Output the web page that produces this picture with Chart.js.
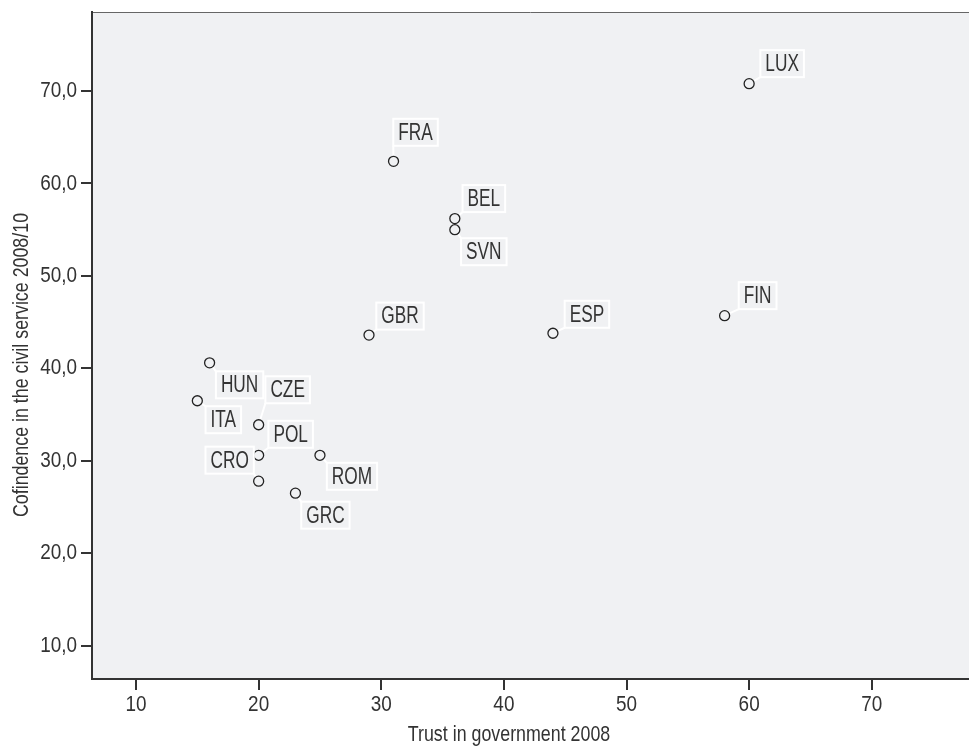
<!DOCTYPE html>
<html>
<head>
<meta charset="utf-8">
<script src="https://cdn.jsdelivr.net/npm/chart.js@4"></script>
<style>
  html, body { margin: 0; padding: 0; background: #fff; }
  #wrap { width: 969px; height: 747px; }
</style>
</head>
<body>
<div id="wrap"><canvas id="scatter" width="969" height="747"></canvas></div>
<script>
// countries and their values
const countries = ['LUX', 'FRA', 'BEL', 'SVN', 'FIN', 'ESP', 'GBR', 'HUN', 'ITA', 'CZE', 'POL', 'ROM', 'CRO', 'GRC'];
const trustGov = [60, 31, 36, 36, 58, 44, 29, 16, 15, 20, 20, 25, 20, 23];
const confidenceCivil = [70.8, 62.4, 56.2, 55.0, 45.7, 43.8, 43.6, 40.6, 36.5, 33.9, 30.6, 30.6, 27.8, 26.5];

const xTicks = [10, 20, 30, 40, 50, 60, 70];
const yTicks = [10, 20, 30, 40, 50, 60, 70];

// where each label box sits relative to its point (px)
const labelOffsets = [
  [33, -20], [22, -29], [29, -20], [29, 22], [33, -20], [34, -19], [31, -19],
  [30, 22], [26, 19], [29, -35], [32, -21], [32, 21], [-29, -21], [30, 22]
];

const FONT = "'Liberation Sans', Arial, sans-serif";
const INK = '#333333';

// no condensed font installed, so squeeze a normal one sideways
function narrowText(ctx, text, x, y, size, squeeze, align) {
  ctx.save();
  ctx.font = size + 'px ' + FONT;
  ctx.textAlign = align;
  ctx.textBaseline = 'middle';
  ctx.translate(x, y);
  ctx.scale(squeeze, 1);
  ctx.fillText(text, 0, 0);
  ctx.restore();
}

const plotBg = {
  id: 'plotBg',
  beforeDraw(chart) {
    const { ctx, chartArea: a } = chart;
    ctx.save();
    ctx.fillStyle = '#f0f1f3';
    ctx.fillRect(a.left, a.top, a.right - a.left, a.bottom - a.top);
    ctx.strokeStyle = '#666';
    ctx.lineWidth = 1;
    ctx.beginPath();
    ctx.moveTo(a.left, a.top + 0.5);
    ctx.lineTo(a.right, a.top + 0.5);
    ctx.stroke();
    ctx.restore();
  }
};

const pointLabels = {
  id: 'pointLabels',
  afterDatasetsDraw(chart) {
    const ctx = chart.ctx;
    const meta = chart.getDatasetMeta(0);
    const size = 23, squeeze = 0.75;
    ctx.save();
    ctx.font = size + 'px ' + FONT;
    meta.data.forEach((pt, i) => {
      const [dx, dy] = labelOffsets[i];
      const cx = pt.x + dx, cy = pt.y + dy;
      const w = ctx.measureText(countries[i]).width * squeeze + 10;
      const h = 27;
      // leader line to the nearest corner
      const bx = dx > 0 ? cx - w / 2 : cx + w / 2;
      const by = dy > 0 ? cy - h / 2 : cy + h / 2;
      const len = Math.hypot(bx - pt.x, by - pt.y);
      ctx.strokeStyle = '#ffffff';
      ctx.lineWidth = 2;
      if (len > 6) {
        ctx.beginPath();
        ctx.moveTo(pt.x + (bx - pt.x) / len * 6, pt.y + (by - pt.y) / len * 6);
        ctx.lineTo(bx, by);
        ctx.stroke();
      }
      ctx.strokeRect(cx - w / 2, cy - h / 2, w, h);
      ctx.fillStyle = INK;
      narrowText(ctx, countries[i], cx, cy + 1, size, squeeze, 'center');
    });
    ctx.restore();
  }
};

const axisText = {
  id: 'axisText',
  afterDraw(chart) {
    const ctx = chart.ctx;
    const a = chart.chartArea;
    const xs = chart.scales.x, ys = chart.scales.y;
    ctx.save();
    ctx.fillStyle = INK;
    xs.ticks.forEach(t => {
      narrowText(ctx, String(t.value), xs.getPixelForValue(t.value), a.bottom + 26, 22, 0.86, 'center');
    });
    ys.ticks.forEach(t => {
      narrowText(ctx, t.value.toFixed(1).replace('.', ','), a.left - 15, ys.getPixelForValue(t.value), 22, 0.86, 'right');
    });
    narrowText(ctx, 'Trust in government 2008', 509, 735, 22, 0.81, 'center');
    ctx.translate(22, 365);
    ctx.rotate(-Math.PI / 2);
    narrowText(ctx, 'Cofindence in the civil service 2008/10', 0, 0, 22, 0.81, 'center');
    ctx.restore();
  }
};

const tickGrid = { drawOnChartArea: false, drawTicks: true, tickLength: 11, color: INK, lineWidth: 2 };

new Chart(document.getElementById('scatter').getContext('2d'), {
  type: 'scatter',
  data: {
    datasets: [{
      data: trustGov.map((x, i) => ({ x, y: confidenceCivil[i] })),
      pointRadius: 5,
      pointHoverRadius: 5,
      pointBorderWidth: 1.3,
      pointBorderColor: '#222',
      pointBackgroundColor: 'rgba(0,0,0,0)'
    }]
  },
  options: {
    responsive: false,
    animation: false,
    devicePixelRatio: 1,
    layout: { autoPadding: false, padding: { top: 12, right: 0, left: 0, bottom: 0 } },
    plugins: { legend: { display: false }, tooltip: { enabled: false } },
    scales: {
      x: {
        type: 'linear',
        min: 6.41,
        max: 77.93,
        afterBuildTicks: s => { s.ticks = xTicks.map(v => ({ value: v })); },
        afterFit: s => { s.height = 68; s.paddingLeft = 0; s.paddingRight = 0; },
        grid: tickGrid,
        border: { color: INK, width: 2 },
        ticks: { display: false }
      },
      y: {
        type: 'linear',
        min: 6.4,
        max: 78.55,
        afterBuildTicks: s => { s.ticks = yTicks.map(v => ({ value: v })); },
        afterFit: s => { s.width = 92; s.paddingTop = 0; s.paddingBottom = 0; },
        grid: tickGrid,
        border: { color: INK, width: 2 },
        ticks: { display: false }
      }
    }
  },
  plugins: [plotBg, pointLabels, axisText]
});
</script>
</body>
</html>
